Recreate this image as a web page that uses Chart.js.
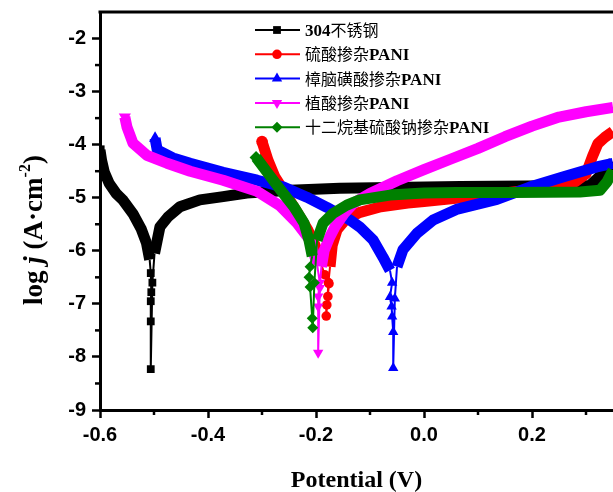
<!DOCTYPE html>
<html><head><meta charset="utf-8">
<script src="https://cdn.jsdelivr.net/npm/chart.js@4"></script>
<style>html,body{margin:0;padding:0;background:#fff}</style>
</head><body>
<canvas id="c" width="613" height="492"></canvas>
<script>
// ---- data ----
const xTickValues = [-0.6, -0.4, -0.2, 0.0, 0.2];
const xTickLabels = ['-0.6', '-0.4', '-0.2', '0.0', '0.2'];
const xMinorValues = [-0.5, -0.3, -0.1, 0.1, 0.3];
const yTickValues = [-9, -8, -7, -6, -5, -4, -3, -2];
const yTickLabels = ['-9', '-8', '-7', '-6', '-5', '-4', '-3', '-2'];
const yMinorValues = [-8.5, -7.5, -6.5, -5.5, -4.5, -3.5, -2.5];
const seriesNames = ['304不锈钢', '硫酸掺杂PANI', '樟脑磺酸掺杂PANI', '植酸掺杂PANI', '十二烷基硫酸钠掺杂PANI'];

const blackCath = [[-0.600,-4.10],[-0.597,-4.30],[-0.592,-4.52],[-0.583,-4.73],[-0.570,-4.92],[-0.557,-5.05],[-0.539,-5.30],[-0.524,-5.58],[-0.514,-5.85],[-0.508,-6.17]];
const blackTail = [[-0.508,-6.17],[-0.506,-6.42],[-0.505,-6.78],[-0.506,-6.95],[-0.506,-7.33],[-0.506,-8.23],[-0.503,-6.60],[-0.499,-6.05]];
const blackAnod = [[-0.499,-6.05],[-0.494,-5.80],[-0.489,-5.55],[-0.474,-5.36],[-0.452,-5.17],[-0.415,-5.04],[-0.372,-4.98],[-0.328,-4.91],[-0.248,-4.86],[-0.156,-4.82],[0.067,-4.79],[0.307,-4.77],[0.322,-4.63],[0.335,-4.48],[0.350,-4.33]];

const redCath = [[-0.300,-3.94],[-0.289,-4.29],[-0.276,-4.61],[-0.257,-4.91],[-0.235,-5.27],[-0.215,-5.61],[-0.202,-5.89],[-0.193,-6.17]];
const redTail = [[-0.193,-6.17],[-0.184,-6.45],[-0.176,-6.62],[-0.178,-6.86],[-0.180,-7.02],[-0.181,-7.23],[-0.177,-6.60],[-0.174,-6.30]];
const redAnod = [[-0.174,-6.30],[-0.170,-5.90],[-0.161,-5.60],[-0.146,-5.42],[-0.120,-5.28],[-0.080,-5.17],[-0.030,-5.10],[0.000,-5.07],[0.050,-5.02],[0.100,-4.97],[0.150,-4.91],[0.200,-4.85],[0.250,-4.77],[0.280,-4.70],[0.300,-4.55],[0.312,-4.22],[0.322,-3.98],[0.335,-3.86],[0.350,-3.75]];

const blueCath = [[-0.498,-3.88],[-0.494,-4.10],[-0.465,-4.25],[-0.433,-4.35],[-0.372,-4.52],[-0.309,-4.67],[-0.260,-4.80],[-0.217,-4.99],[-0.180,-5.18],[-0.137,-5.42],[-0.119,-5.55],[-0.094,-5.80],[-0.076,-6.12],[-0.063,-6.37]];
const blueTail = [[-0.063,-6.37],[-0.059,-6.60],[-0.063,-6.87],[-0.060,-7.05],[-0.059,-7.24],[-0.057,-7.53],[-0.057,-8.21],[-0.054,-6.90],[-0.050,-6.30]];
const blueAnod = [[-0.050,-6.30],[-0.039,-5.98],[-0.013,-5.67],[0.017,-5.42],[0.060,-5.22],[0.135,-5.03],[0.196,-4.80],[0.257,-4.61],[0.320,-4.42],[0.350,-4.35]];

const magentaCath = [[-0.554,-3.48],[-0.550,-3.67],[-0.539,-3.97],[-0.513,-4.20],[-0.476,-4.35],[-0.433,-4.50],[-0.372,-4.67],[-0.309,-4.88],[-0.267,-5.15],[-0.235,-5.48],[-0.211,-5.80],[-0.198,-6.25]];
const magentaTail = [[-0.198,-6.25],[-0.193,-6.60],[-0.196,-6.86],[-0.196,-7.05],[-0.196,-7.92],[-0.193,-6.70],[-0.190,-6.30]];
const magentaAnod = [[-0.190,-6.30],[-0.185,-6.00],[-0.175,-5.75],[-0.165,-5.55],[-0.148,-5.30],[-0.130,-5.10],[-0.100,-4.92],[-0.050,-4.68],[0.000,-4.47],[0.050,-4.27],[0.100,-4.07],[0.150,-3.85],[0.200,-3.65],[0.250,-3.48],[0.300,-3.38],[0.350,-3.30]];

const greenCath = [[-0.311,-4.24],[-0.289,-4.54],[-0.265,-4.86],[-0.241,-5.17],[-0.222,-5.48],[-0.213,-5.80],[-0.207,-6.10]];
const greenTail = [[-0.207,-6.10],[-0.211,-6.30],[-0.213,-6.50],[-0.211,-6.68],[-0.207,-7.27],[-0.206,-7.45],[-0.203,-6.60],[-0.198,-5.80]];
const greenAnod = [[-0.198,-5.80],[-0.187,-5.48],[-0.169,-5.30],[-0.143,-5.14],[-0.119,-5.04],[-0.063,-4.95],[0.000,-4.91],[0.060,-4.90],[0.165,-4.90],[0.289,-4.89],[0.326,-4.86],[0.339,-4.70],[0.350,-4.48]];

// ---- styling ----
const series = [
  {name: seriesNames[0], color: '#000000', style: 'rect', rot: 0, r: 5.5, cath: blackCath, tail: blackTail, anod: blackAnod},
  {name: seriesNames[1], color: '#FF0000', style: 'circle', rot: 0, r: 4.8, cath: redCath, tail: redTail, anod: redAnod},
  {name: seriesNames[2], color: '#0000FF', style: 'triangle', rot: 0, r: 6, cath: blueCath, tail: blueTail, anod: blueAnod},
  {name: seriesNames[3], color: '#FF00FF', style: 'triangle', rot: 180, r: 6, cath: magentaCath, tail: magentaTail, anod: magentaAnod},
  {name: seriesNames[4], color: '#008000', style: 'rectRot', rot: 0, r: 5.5, cath: greenCath, tail: greenTail, anod: greenAnod}
];
const BAND = 11;
const pts = a => a.map(p => ({x: p[0], y: p[1]}));

const datasets = [];
series.forEach((s, i) => {
  const ord = 10 - i * 2;
  const common = {borderColor: s.color, backgroundColor: s.color, pointBorderColor: s.color, pointBackgroundColor: s.color,
    pointStyle: s.style, rotation: s.rot, showLine: true, clip: 0, borderJoinStyle: 'round', borderCapStyle: 'butt', pointBorderWidth: 0};
  datasets.push(Object.assign({}, common, {data: pts(s.cath), borderWidth: BAND, pointRadius: c => c.dataIndex === 0 ? s.r + 1 : 0, order: ord}));
  datasets.push(Object.assign({}, common, {data: pts(s.anod), borderWidth: BAND, pointRadius: 0, order: ord}));
  datasets.push(Object.assign({}, common, {data: pts(s.tail), borderWidth: 2, pointRadius: c => (c.dataIndex === 0 || c.dataIndex === s.tail.length - 1) ? 0 : s.r, order: ord - 0.5}));
});

const serif = '"Liberation Serif", "Times New Roman", serif';
const cjk = '"Noto Sans CJK SC", sans-serif';

const deco = {
  id: 'deco',
  afterDraw(chart) {
    const ctx = chart.ctx, a = chart.chartArea;
    const xs = chart.scales.x, ys = chart.scales.y;
    ctx.save();
    ctx.strokeStyle = '#000'; ctx.fillStyle = '#000';
    // top frame line
    ctx.lineWidth = 3;
    ctx.beginPath(); ctx.moveTo(a.left - 1.5, a.top); ctx.lineTo(a.right, a.top); ctx.stroke();
    // minor ticks
    ctx.lineWidth = 2.5;
    xMinorValues.forEach(v => { const px = xs.getPixelForValue(v); ctx.beginPath(); ctx.moveTo(px, a.bottom); ctx.lineTo(px, a.bottom + 5); ctx.stroke(); });
    yMinorValues.forEach(v => { const py = ys.getPixelForValue(v); ctx.beginPath(); ctx.moveTo(a.left, py); ctx.lineTo(a.left - 5, py); ctx.stroke(); });
    // x title
    ctx.font = 'bold 24px ' + serif;
    ctx.textAlign = 'center'; ctx.textBaseline = 'alphabetic';
    ctx.fillText('Potential (V)', (a.left + a.right) / 2, 487);
    // y title (rotated, mixed styles)
    ctx.save();
    ctx.translate(42, 230);
    ctx.rotate(-Math.PI / 2);
    const parts = [
      {t: 'log ', f: 'bold 27px ' + serif, dy: 0},
      {t: 'j', f: 'italic bold 27px ' + serif, dy: 0},
      {t: ' (A·cm', f: 'bold 27px ' + serif, dy: 0},
      {t: '-2', f: 'bold 16px ' + serif, dy: -12},
      {t: ')', f: 'bold 27px ' + serif, dy: 0}
    ];
    let total = 0;
    parts.forEach(p => { ctx.font = p.f; p.w = ctx.measureText(p.t).width; total += p.w; });
    let cx = -total / 2;
    ctx.textAlign = 'left';
    parts.forEach(p => { ctx.font = p.f; ctx.fillText(p.t, cx, p.dy); cx += p.w; });
    ctx.restore();
    // legend
    series.forEach((s, i) => {
      const y = 30 + i * 24.3;
      ctx.strokeStyle = s.color; ctx.fillStyle = s.color; ctx.lineWidth = 2;
      ctx.beginPath(); ctx.moveTo(255, y); ctx.lineTo(300, y); ctx.stroke();
      Chart.helpers.drawPoint(ctx, {pointStyle: s.style, rotation: s.rot, radius: s.r, borderWidth: 0}, 277, y);
      ctx.fillStyle = '#000'; ctx.textAlign = 'left';
      let tx = 305;
      s.name.split(/([\x00-\x7F]+)/).filter(t => t).forEach(t => {
        ctx.font = /^[\x00-\x7F]+$/.test(t) ? 'bold 17px ' + serif : '16px ' + cjk;
        ctx.fillText(t, tx, y + 6);
        tx += ctx.measureText(t).width;
      });
    });
    ctx.restore();
  }
};

const noPad = s => { s.paddingTop = 0; s.paddingBottom = 0; s.paddingLeft = 0; s.paddingRight = 0; };

new Chart(document.getElementById('c'), {
  type: 'scatter',
  data: {datasets},
  plugins: [deco],
  options: {
    responsive: false, animation: false, events: [],
    layout: {autoPadding: false, padding: {top: 12, right: 0, left: 0, bottom: 0}},
    plugins: {legend: {display: false}, tooltip: {enabled: false}, title: {display: false}},
    scales: {
      x: {
        type: 'linear', min: -0.6, max: 0.35,
        afterFit: s => { s.height = 82; noPad(s); },
        afterBuildTicks: s => { s.ticks = xTickValues.map(v => ({value: v})); },
        ticks: {callback: (v, i) => xTickLabels[i], color: '#000', font: {family: 'Liberation Sans', weight: 'bold', size: 20}, padding: 5, maxRotation: 0, autoSkip: false},
        grid: {display: true, drawOnChartArea: false, drawTicks: true, tickLength: 8, tickWidth: 2.5, tickColor: '#000'},
        border: {display: true, color: '#000', width: 3}
      },
      y: {
        type: 'linear', min: -9, max: -1.5,
        afterFit: s => { s.width = 100; noPad(s); },
        afterBuildTicks: s => { s.ticks = yTickValues.map(v => ({value: v})); },
        ticks: {callback: (v, i) => yTickLabels[i], color: '#000', font: {family: 'Liberation Sans', weight: 'bold', size: 20}, padding: 6, autoSkip: false},
        grid: {display: true, drawOnChartArea: false, drawTicks: true, tickLength: 8, tickWidth: 2.5, tickColor: '#000'},
        border: {display: true, color: '#000', width: 3}
      }
    }
  }
});
</script>
</body></html>
